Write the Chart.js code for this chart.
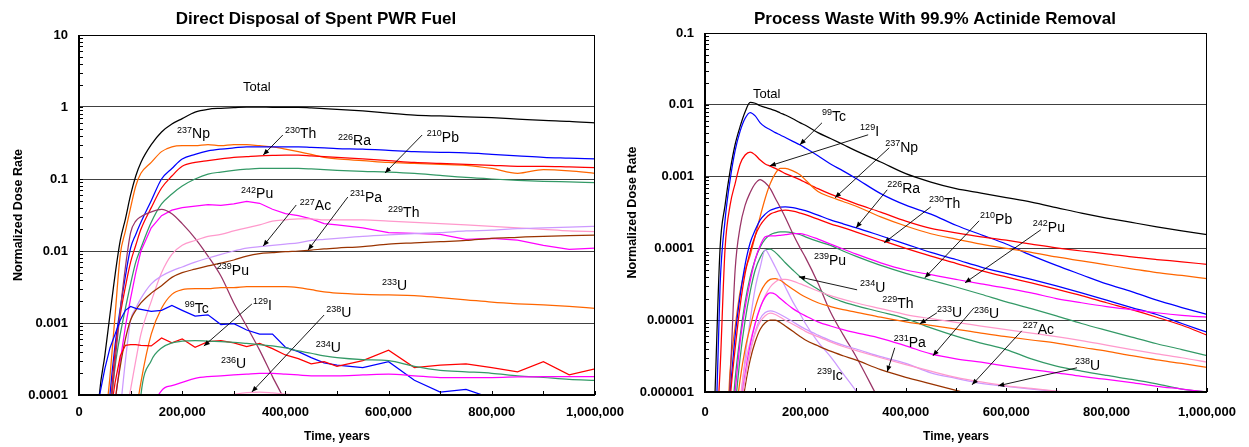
<!DOCTYPE html>
<html><head><meta charset="utf-8">
<script src="https://cdn.jsdelivr.net/npm/chart.js@4/dist/chart.umd.min.js"></script>
<style>
html,body{margin:0;padding:0;background:#fff;}
#wrap{position:relative;width:1249px;height:447px;background:#fff;}
canvas{position:absolute;left:0;top:0;}
</style>
</head><body>
<div id="wrap"><canvas id="c1" width="1249" height="447" style="width:1249px;height:447px"></canvas><canvas id="c2" width="1249" height="447" style="width:1249px;height:447px"></canvas></div>
<script>
// ---------- DATA : left chart (Direct Disposal of Spent PWR Fuel) ----------
const timesL = [30000,40000,50000,60000,70000,80000,90000,100000,110000,120000,140000,160000,180000,200000,225000,250000,275000,300000,325000,350000,375000,400000,425000,450000,475000,500000,550000,600000,650000,700000,750000,800000,850000,900000,950000,1000000];
const totalL = [1e-5,1.1e-4,3.5e-4,1.3e-3,4.7e-3,0.014,0.028,0.06,0.11,0.17, 0.30,0.45,0.58,0.69, 0.85,0.93,0.96,0.98,1.0,1.0,0.99,0.99,0.99,0.97,0.95,0.93, 0.88,0.82,0.77,0.75,0.73,0.71,0.68,0.65,0.63,0.60];
const np237L = [1e-6,1e-6,3e-5,1.8e-4,1.3e-3,8.9e-3,0.019,0.04,0.08,0.12, 0.17,0.24,0.28,0.29, 0.29,0.30,0.29,0.30,0.30,0.29,0.28,0.26,0.24,0.22,0.20,0.19, 0.18,0.17,0.165,0.16,0.155,0.14,0.12,0.135,0.13,0.12];
const ra226L = [1e-6,1e-6,1e-5,1e-4,5e-4,1.6e-3,4.5e-3,0.011,0.017,0.025, 0.05,0.1,0.14,0.19, 0.22,0.245,0.26,0.27,0.28,0.28,0.28,0.28,0.28,0.275,0.27,0.265, 0.26,0.25,0.24,0.235,0.23,0.22,0.21,0.20,0.195,0.19];
const th230L = [1e-6,1e-6,1e-6,5e-5,4e-4,1.3e-3,3.2e-3,7e-3,0.012,0.02, 0.04,0.075,0.11,0.15, 0.17,0.18,0.19,0.2,0.205,0.21,0.213,0.215,0.215,0.21,0.205,0.2, 0.19,0.18,0.17,0.165,0.16,0.155,0.15,0.15,0.147,0.144];
const pb210L = [1e-6,1e-6,5e-6,5e-5,2.5e-4,7e-4,1.6e-3,3.5e-3,7e-3,0.011, 0.025,0.045,0.062,0.08, 0.1,0.117,0.125,0.132,0.137,0.14,0.14,0.14,0.14,0.138,0.135,0.132, 0.128,0.125,0.12,0.112,0.105,0.1,0.096,0.093,0.091,0.089];
const pu242L = [1e-6,1e-6,1e-6,1e-5,8e-5,3e-4,9e-4,2.2e-3,5e-3,0.01, 0.021,0.031,0.037,0.04, 0.042,0.044,0.043,0.045,0.049,0.046,0.038,0.033,0.031,0.028,0.024,0.023, 0.021,0.018,0.0176,0.017,0.0145,0.015,0.0142,0.012,0.0105,0.011];
const pu239L = [1e-6,1e-6,1e-5,5e-5,3e-4,1.5e-3,6e-3,0.018,0.026,0.03, 0.035,0.038,0.033,0.024, 0.015,0.0085,0.0045,0.0019,9e-4,4.2e-4,1.8e-4,8e-5,3e-5,1e-5,4e-6,1e-6, 1e-7,1e-7,1e-7,1e-7,1e-7,1e-7,1e-7,1e-7,1e-7,1e-7];
const th229L = [1e-6,1e-6,1e-6,1e-6,1e-6,1e-5,5e-5,1.2e-4,3e-4,7e-4, 2e-3,5e-3,9e-3,0.012, 0.014,0.016,0.017,0.019,0.021,0.023,0.026,0.027,0.028,0.028,0.027,0.027, 0.027,0.026,0.025,0.024,0.023,0.022,0.021,0.02,0.019,0.0186];
const ac227L = [1e-6,1e-6,1e-6,1e-6,1e-5,6e-5,3e-4,1.1e-3,1.6e-3,2.2e-3, 3.5e-3,4.5e-3,5.3e-3,6e-3, 7e-3,8e-3,9e-3,0.01,0.011,0.0115,0.012,0.0125,0.013,0.014,0.0145,0.015, 0.016,0.0168,0.0175,0.018,0.019,0.0195,0.0205,0.021,0.0215,0.022];
const pa231L = [1e-6,1e-6,1e-6,1e-5,8e-5,2.5e-4,6e-4,1.1e-3,1.5e-3,1.9e-3, 2.6e-3,3.3e-3,4.3e-3,5e-3, 5.6e-3,6.2e-3,6.8e-3,7.5e-3,8.5e-3,9.2e-3,9.5e-3,9.8e-3,0.01,0.0103,0.0107,0.011, 0.0115,0.0125,0.013,0.0135,0.014,0.015,0.0155,0.016,0.0163,0.0166];
const u233L  = [1e-6,1e-6,1e-6,1e-6,1e-6,1e-6,1e-6,1e-5,5e-5,1.5e-4, 7e-4,1.6e-3,2.5e-3,2.9e-3, 3e-3,3e-3,3.1e-3,3.1e-3,3.2e-3,3.2e-3,3.2e-3,3.2e-3,3.1e-3,2.9e-3,2.7e-3,2.6e-3, 2.5e-3,2.45e-3,2.4e-3,2.25e-3,2.1e-3,1.95e-3,1.85e-3,1.78e-3,1.7e-3,1.6e-3];
const tc99L  = [1e-5,1e-4,2.3e-4,4.5e-4,7e-4,1.1e-3,1.5e-3,1.7e-3,1.6e-3,1.55e-3, 1.45e-3,1.5e-3,1.75e-3,1.5e-3, 1.25e-3,1.3e-3,9.5e-4,9.8e-4,8e-4,7e-4,7e-4,4.6e-4,4e-4,3.3e-4,2.8e-4,2.6e-4, 2.4e-4,2.9e-4,1.6e-4,1.1e-4,1.2e-4,9e-5,6e-5,5e-5,4e-5,3e-5];
const i129L  = [1e-6,1e-5,3e-5,5e-5,1.5e-4,3.5e-4,4.9e-4,5e-4,5e-4,4.9e-4, 4.8e-4,6.2e-4,5.3e-4,6e-4, 4.6e-4,5.5e-4,5.7e-4,5.3e-4,4.7e-4,5.2e-4,4.4e-4,3.6e-4,3.2e-4,2.7e-4,2.9e-4,2.5e-4, 3e-4,4.2e-4,2.4e-4,2.6e-4,2.7e-4,2.4e-4,2.1e-4,2.9e-4,1.9e-4,2.3e-4];
const u234L  = [1e-6,1e-6,1e-6,1e-6,1e-6,1e-6,1e-6,1e-6,1e-5,1e-4, 3e-4,4.5e-4,5.3e-4,5.6e-4, 5.7e-4,5.6e-4,5.5e-4,5.4e-4,5.2e-4,5e-4,4.8e-4,4.5e-4,4.1e-4,3.8e-4,3.5e-4,3.3e-4, 3.1e-4,3e-4,2.5e-4,2.2e-4,2.1e-4,2e-4,1.85e-4,1.75e-4,1.65e-4,1.6e-4];
const u236L  = [1e-7,1e-7,1e-7,1e-7,1e-7,1e-7,1e-7,1e-7,1e-7,1e-7, 3e-5,1.15e-4,1.35e-4,1.5e-4, 1.7e-4,1.8e-4,1.85e-4,1.9e-4,1.95e-4,2e-4,2e-4,1.95e-4,1.9e-4,1.85e-4,1.85e-4,1.85e-4, 1.9e-4,1.95e-4,1.85e-4,1.75e-4,1.75e-4,1.75e-4,1.78e-4,1.8e-4,1.8e-4,1.8e-4];
const u238L  = [1e-7,1e-7,1e-7,1e-7,1e-7,1e-7,1e-7,1e-7,1e-7,1e-7,1e-7,1e-7,1e-7, 2e-5,5e-5,8e-5,9.5e-5,1.02e-4,1.08e-4,1.1e-4,1.07e-4,1.03e-4,1e-4,9.8e-5,9.6e-5,9.5e-5, 9.5e-5,9.6e-5,8e-5,5e-5,3e-5,2e-5,1.5e-5,1e-5,1e-5,1e-5];

// ---------- DATA : right chart (Process Waste With 99.9% Actinide Removal) ----------
const timesR = [20000,30000,40000,50000,60000,70000,80000,90000,100000,110000,120000,130000,140000,150000,160000,175000,190000,200000,225000,250000,275000,300000,350000,400000,450000,500000,550000,600000,650000,700000,750000,800000,850000,900000,950000,1000000];
const totalR = [1e-6,1e-4,4e-4,1.2e-3,2.8e-3,5e-3,8e-3,0.0108,0.0105,0.0097, 0.0092,0.0088,0.0083,0.0077,0.0072,0.0064,0.0056,0.0052, 0.0041,0.0034,0.0028,0.0023, 0.0016,0.0011,8.4e-4,6.8e-4,5.9e-4,5.1e-4,4.4e-4,3.7e-4,3.1e-4,2.65e-4,2.3e-4,2e-4,1.75e-4,1.55e-4];
const tc99R  = [1e-7,3e-5,2.5e-4,9e-4,2.3e-3,4.3e-3,6.5e-3,7.8e-3,7e-3,5.6e-3, 4.9e-3,4.5e-3,4.1e-3,3.8e-3,3.5e-3,3.1e-3,2.75e-3,2.5e-3, 1.95e-3,1.5e-3,1.2e-3,9.5e-4, 5.8e-4,4e-4,3e-4,2.1e-4,1.55e-4,1.15e-4,8e-5,5.8e-5,4.3e-5,3.2e-5,2.5e-5,1.9e-5,1.5e-5,1.2e-5];
const i129R  = [1e-7,2e-6,1e-4,4e-4,8e-4,1.5e-3,2e-3,2.2e-3,2e-3,1.7e-3, 1.5e-3,1.4e-3,1.3e-3,1.2e-3,1.1e-3,1e-3,9e-4,8.3e-4, 6.8e-4,5.7e-4,4.9e-4,4.2e-4, 3.2e-4,2.4e-4,1.9e-4,1.65e-4,1.45e-4,1.3e-4,1.15e-4,1.02e-4,9.2e-5,8.4e-5,7.6e-5,7e-5,6.5e-5,6e-5];
const np237R = [1e-7,1e-7,1e-7,2e-6,8e-6,2.5e-5,5e-5,8e-5,1.5e-4,2.8e-4, 5e-4,8e-4,1.1e-3,1.3e-3,1.3e-3,1.2e-3,1.05e-3,9e-4, 6.2e-4,5.2e-4,4.5e-4,3.9e-4, 2.75e-4,2.05e-4,1.6e-4,1.35e-4,1.15e-4,1e-4,8.8e-5,7.6e-5,6.7e-5,5.9e-5,5.2e-5,4.6e-5,4.2e-5,3.8e-5];
const ra226R = [1e-7,1e-7,2e-7,1e-6,6e-6,2.2e-5,6e-5,1.2e-4,1.8e-4,2.5e-4, 3e-4,3.4e-4,3.6e-4,3.75e-4,3.8e-4,3.7e-4,3.5e-4,3.35e-4, 2.9e-4,2.5e-4,2.2e-4,1.95e-4, 1.5e-4,1.15e-4,8.8e-5,7e-5,5.5e-5,4.5e-5,3.7e-5,3e-5,2.4e-5,1.9e-5,1.5e-5,1.2e-5,9e-6,6.8e-6];
const th230R = [1e-7,1e-7,1e-7,8e-7,4e-6,1.6e-5,4.5e-5,9e-5,1.5e-4,2.1e-4, 2.6e-4,3e-4,3.2e-4,3.35e-4,3.4e-4,3.3e-4,3.1e-4,2.95e-4, 2.55e-4,2.2e-4,1.95e-4,1.7e-4, 1.3e-4,1e-4,7.8e-5,6.2e-5,4.9e-5,4e-5,3.3e-5,2.7e-5,2.2e-5,1.75e-5,1.4e-5,1.1e-5,8.5e-6,6.2e-6];
const pb210R = [1e-7,1e-7,1e-7,2e-7,1.5e-6,6e-6,1.8e-5,4e-5,7e-5,1.05e-4, 1.35e-4,1.55e-4,1.65e-4,1.7e-4,1.7e-4,1.65e-4,1.55e-4,1.45e-4, 1.25e-4,1.1e-4,9.2e-5,7.8e-5, 5.8e-5,4.5e-5,3.6e-5,2.9e-5,2.3e-5,1.8e-5,1.45e-5,1.15e-5,9e-6,7.2e-6,5.8e-6,4.7e-6,3.9e-6,3.2e-6];
const pu242R = [1e-7,1e-7,1e-7,2e-7,1e-6,5e-6,1.5e-5,3.5e-5,7e-5,1.1e-4, 1.45e-4,1.5e-4,1.5e-4,1.52e-4,1.55e-4,1.6e-4,1.6e-4,1.55e-4, 1.35e-4,1.15e-4,9.8e-5,8.4e-5, 6.3e-5,5e-5,4.3e-5,3.7e-5,3.2e-5,2.8e-5,2.4e-5,2e-5,1.75e-5,1.55e-5,1.4e-5,1.27e-5,1.17e-5,1.1e-5];
const pu239R = [1e-7,1e-7,1e-7,1.5e-6,5e-5,2e-4,4e-4,6e-4,8e-4,9.1e-4, 8.2e-4,6.8e-4,5e-4,3.7e-4,2.7e-4,1.6e-4,1e-4,7.5e-5, 3.3e-5,1.3e-5,6.3e-6,3.2e-6, 7e-7,1.6e-7,1e-7,1e-7,1e-7,1e-7,1e-7,1e-7,1e-7,1e-7,1e-7,1e-7,1e-7,1e-7];
const u234R  = [1e-7,1e-7,1e-7,1e-7,6e-7,3e-6,1e-5,2.5e-5,5e-5,7.5e-5, 9.5e-5,9.8e-5,8.8e-5,7.5e-5,6.3e-5,5e-5,4e-5,3.5e-5, 2.7e-5,2.1e-5,1.8e-5,1.6e-5, 1.3e-5,1.05e-5,7.8e-6,6e-6,4.8e-6,3.9e-6,2.9e-6,2.3e-6,1.95e-6,1.7e-6,1.5e-6,1.3e-6,1.1e-6,1e-6];
const ic239R = [1e-7,1e-7,1e-7,1e-7,1e-7,6e-7,3e-6,1e-5,2.8e-5,5.5e-5, 9.5e-5,7.5e-5,5.5e-5,4e-5,2.9e-5,1.8e-5,1.2e-5,9e-6, 5e-6,3.1e-6,1.8e-6,1.05e-6, 3e-7,1e-7,1e-7,1e-7,1e-7,1e-7,1e-7,1e-7,1e-7,1e-7,1e-7,1e-7,1e-7,1e-7];
const u233R  = [1e-7,1e-7,1e-7,1e-7,4e-7,1.5e-6,4e-6,8e-6,1.5e-5,2.4e-5, 3.2e-5,3.7e-5,3.8e-5,3.6e-5,3.2e-5,2.7e-5,2.3e-5,2.1e-5, 1.75e-5,1.55e-5,1.4e-5,1.3e-5, 1.1e-5,9.5e-6,8.5e-6,7.5e-6,6.6e-6,5.9e-6,5.3e-6,4.8e-6,4.2e-6,3.7e-6,3.2e-6,2.8e-6,2.5e-6,2.2e-6];
const th229R = [1e-7,1e-7,1e-7,1e-7,2e-7,8e-7,2.5e-6,5e-6,9e-6,1.5e-5, 2.2e-5,2.9e-5,3.4e-5,3.7e-5,3.7e-5,3.5e-5,3.2e-5,3e-5, 2.55e-5,2.2e-5,1.95e-5,1.75e-5, 1.45e-5,1.2e-5,1.05e-5,9.3e-6,8.3e-6,7.4e-6,6.6e-6,5.9e-6,5.2e-6,4.5e-6,3.9e-6,3.4e-6,3e-6,2.6e-6];
const u236R  = [1e-7,1e-7,1e-7,1e-7,1e-7,5e-7,1.8e-6,4.5e-6,9e-6,1.5e-5, 2.1e-5,2.4e-5,2.3e-5,2e-5,1.75e-5,1.45e-5,1.25e-5,1.15e-5, 9.5e-6,8.3e-6,7.4e-6,6.7e-6, 5.6e-6,4.4e-6,3.4e-6,2.9e-6,2.6e-6,2.3e-6,2.05e-6,1.85e-6,1.65e-6,1.5e-6,1.35e-6,1.2e-6,1.1e-6,1e-6];
const pa231R = [1e-7,1e-7,1e-7,1e-7,1e-7,4e-7,1.2e-6,2.8e-6,5e-6,7.5e-6, 9.2e-6,1e-5,1e-5,9.3e-6,8.3e-6,7e-6,5.9e-6,5.3e-6, 4.4e-6,3.7e-6,3.2e-6,2.8e-6, 2.05e-6,1.6e-6,1.3e-6,1.05e-6,8.5e-7,7e-7,6e-7,5e-7,4e-7,3.5e-7,3e-7,2.5e-7,2e-7,1.5e-7];
const ac227R = [1e-7,1e-7,1e-7,1e-7,1e-7,5e-7,1.6e-6,3.8e-6,7e-6,1.05e-5, 1.28e-5,1.35e-5,1.3e-5,1.2e-5,1.1e-5,9.5e-6,8.2e-6,7.5e-6, 6.2e-6,5.2e-6,4.5e-6,4e-6, 3.1e-6,2.5e-6,1.85e-6,1.55e-6,1.32e-6,1.2e-6,1.1e-6,1.02e-6,9.6e-7,9e-7,8.5e-7,8e-7,7.5e-7,7e-7];
const u238R  = [1e-7,1e-7,1e-7,1e-7,1e-7,5e-7,1.5e-6,3.5e-6,6.5e-6,9.5e-6, 1.15e-5,1.25e-5,1.2e-5,1.1e-5,1e-5,8.8e-6,7.7e-6,7e-6, 5.9e-6,5e-6,4.3e-6,3.8e-6, 3e-6,2.4e-6,1.95e-6,1.6e-6,1.38e-6,1.22e-6,1.12e-6,1.03e-6,9.5e-7,8.8e-7,8e-7,7.5e-7,7e-7,6.5e-7];

// ---------- tick labels ----------
const xTicks  = [0,200000,400000,600000,800000,1000000];
const yTicksL = [10,1,0.1,0.01,0.001,0.0001];
const yTicksR = [0.1,0.01,0.001,0.0001,0.00001,0.000001];

// ---------- colours ----------
const C = {black:'#000000', orange:'#FF6600', blue:'#0000FF', red:'#FF0000', green:'#339966',
           magenta:'#FF00FF', mauve:'#993366', pink:'#FF99CC', lavender:'#CC99FF', brown:'#993300'};

// [name, values, colour, straight segments?]
const seriesL = [
  ['238U',u238L,C.pink],['236U',u236L,C.magenta],['234U',u234L,C.green],['129I',i129L,C.red,true],['99Tc',tc99L,C.blue,true],
  ['233U',u233L,C.orange],['231Pa',pa231L,C.brown],['227Ac',ac227L,C.lavender],['229Th',th229L,C.pink],
  ['239Pu',pu239L,C.mauve],['242Pu',pu242L,C.magenta,true],['210Pb',pb210L,C.green],['230Th',th230L,C.red],
  ['226Ra',ra226L,C.blue],['237Np',np237L,C.orange],['Total',totalL,C.black]
];
const seriesR = [
  ['238U',u238R,C.pink],['227Ac',ac227R,C.lavender],['231Pa',pa231R,C.brown],['236U',u236R,C.magenta],
  ['229Th',th229R,C.pink],['233U',u233R,C.orange],['239Ic',ic239R,C.lavender],['234U',u234R,C.green],
  ['239Pu',pu239R,C.mauve],['242Pu',pu242R,C.magenta],['210Pb',pb210R,C.green],['230Th',th230R,C.red],
  ['226Ra',ra226R,C.blue],['237Np',np237R,C.orange],['129I',i129R,C.red],['99Tc',tc99R,C.blue],['Total',totalR,C.black]
];

// ---------- annotation placement (time in thousand years, log10 of dose) ----------
const labelsL = [
  {s:'',m:'Total',t:318,lg:0.222,size:13},{s:'237',m:'Np',t:190,lg:-0.431},{s:'230',m:'Th',t:399,lg:-0.431},
  {s:'226',m:'Ra',t:502,lg:-0.528},{s:'210',m:'Pb',t:674,lg:-0.486},{s:'242',m:'Pu',t:314,lg:-1.264},
  {s:'227',m:'Ac',t:428,lg:-1.431},{s:'231',m:'Pa',t:525,lg:-1.319},{s:'229',m:'Th',t:599,lg:-1.528},
  {s:'239',m:'Pu',t:267,lg:-2.333},{s:'233',m:'U',t:587,lg:-2.542},{s:'99',m:'Tc',t:205,lg:-2.861},
  {s:'129',m:'I',t:337,lg:-2.819},{s:'238',m:'U',t:479,lg:-2.917},{s:'234',m:'U',t:459,lg:-3.403},
  {s:'236',m:'U',t:275,lg:-3.625}
];
const arrowsL = [
  [395,-0.389,357,-0.667],[665,-0.389,593,-0.917],[421,-1.361,357,-1.931],
  [521,-1.25,444,-1.986],[335,-2.736,242,-3.319],[475,-2.889,335,-3.958]
];
const labelsR = [
  {s:'',m:'Total',t:95.6,lg:-1.903,size:13},{s:'99',m:'Tc',t:233,lg:-2.223},{s:'129',m:'I',t:309,lg:-2.432},
  {s:'237',m:'Np',t:359,lg:-2.655},{s:'226',m:'Ra',t:363,lg:-3.226},{s:'230',m:'Th',t:446,lg:-3.435},
  {s:'210',m:'Pb',t:548,lg:-3.657},{s:'242',m:'Pu',t:653,lg:-3.769},{s:'239',m:'Pu',t:217,lg:-4.228},
  {s:'234',m:'U',t:309,lg:-4.604},{s:'229',m:'Th',t:353,lg:-4.827},{s:'233',m:'U',t:462,lg:-4.96},
  {s:'236',m:'U',t:536,lg:-4.974},{s:'227',m:'Ac',t:633,lg:-5.19},{s:'231',m:'Pa',t:376,lg:-5.37},
  {s:'238',m:'U',t:737,lg:-5.69},{s:'239',m:'Ic',t:223,lg:-5.83}
];
const arrowsR = [
  [233,-2.251,189,-2.557],[325,-2.418,129,-2.85],[367,-2.599,259,-3.295],[363,-3.184,301,-3.713],
  [450,-3.421,357,-3.922],[546,-3.616,438,-4.409],[669,-3.741,518,-4.479],[303,-4.577,187,-4.396],
  [462,-4.897,428,-5.05],[536,-4.827,454,-5.496],[631,-5.148,532,-5.9],[378,-5.384,363,-5.718],
  [741,-5.663,584,-5.914]
];

// ---------- rendering ----------
const FF = "'Liberation Sans', Arial, Helvetica, sans-serif";
Chart.defaults.font.family = FF;
Chart.defaults.color = '#000';

const fmtX = v => String(v).replace(/\B(?=(\d{3})+(?!\d))/g, ',');

function build(times, series) {
  return series.map(([label, vals, color, straight]) => ({
    label, data: times.map((t, i) => ({x: t, y: vals[i]})),
    borderColor: color, backgroundColor: color, borderWidth: 1.25,
    pointRadius: 0, fill: false,
    cubicInterpolationMode: straight ? 'default' : 'monotone', tension: 0
  }));
}

const annot = {
  id: 'annot',
  afterDraw(chart, args, opts) {
    const {ctx, chartArea: a, scales: {x, y}} = chart;
    const L = Math.round(a.left), R = Math.round(a.right), T = Math.round(a.top), B = Math.round(a.bottom);
    ctx.save();
    ctx.fillStyle = '#000'; ctx.strokeStyle = '#000'; ctx.lineWidth = 1;
    // chart title
    ctx.font = 'bold 17px ' + FF; ctx.textAlign = 'center'; ctx.textBaseline = 'alphabetic';
    ctx.fillText(opts.title, (a.left + a.right) / 2 + opts.titleShift, opts.titleY);
    // minor y ticks (inside)
    const lo = Math.round(Math.log10(y.min)), hi = Math.round(Math.log10(y.max));
    for (let e = lo; e < hi; e++) for (let m = 1; m < 10; m++) {
      const py = Math.round(y.getPixelForValue(m * Math.pow(10, e)));
      ctx.fillRect(L, py, 4, 1);
    }
    // x ticks (inside)
    for (let v = 0; v <= 1000000; v += 100000) {
      const px = Math.round(x.getPixelForValue(v));
      ctx.fillRect(px, B - 4, 1, 4);
    }
    // frame
    ctx.fillRect(L, T, R - L, 1);
    ctx.fillRect(R - 1, T, 1, B - T);
    ctx.fillRect(L - 1, T, 2, B - T + 1);
    ctx.fillRect(L - 1, B - 1, R - L + 1, 2);
    // labels
    ctx.textAlign = 'left'; ctx.textBaseline = 'alphabetic';
    for (const lb of opts.labels) {
      const px = x.getPixelForValue(lb.t * 1000), py = y.getPixelForValue(Math.pow(10, lb.lg));
      let cx = px;
      if (lb.s) {
        ctx.font = '9px ' + FF;
        ctx.fillText(lb.s, cx, py - 5.5);
        cx += ctx.measureText(lb.s).width;
      }
      ctx.font = (lb.size || 14) + 'px ' + FF;
      ctx.fillText(lb.m, cx, py);
    }
    // arrows
    ctx.lineWidth = 0.9;
    for (const [t1, l1, t2, l2] of opts.arrows) {
      const x1 = x.getPixelForValue(t1 * 1000), y1 = y.getPixelForValue(Math.pow(10, l1));
      const x2 = x.getPixelForValue(t2 * 1000), y2 = y.getPixelForValue(Math.pow(10, l2));
      ctx.beginPath(); ctx.moveTo(x1, y1); ctx.lineTo(x2, y2); ctx.stroke();
      const ang = Math.atan2(y2 - y1, x2 - x1), hl = 6, hw = 2.5;
      const c = Math.cos(ang), s = Math.sin(ang);
      ctx.beginPath();
      ctx.moveTo(x2, y2);
      ctx.lineTo(x2 - hl * c + hw * s, y2 - hl * s - hw * c);
      ctx.lineTo(x2 - hl * c - hw * s, y2 - hl * s + hw * c);
      ctx.closePath(); ctx.fill();
    }
    ctx.restore();
  }
};

function makeChart(id, o) {
  return new Chart(document.getElementById(id), {
    type: 'line',
    data: {datasets: build(o.times, o.series)},
    options: {
      responsive: false, animation: false, devicePixelRatio: 1,
      layout: {padding: o.pad},
      plugins: {
        legend: {display: false}, tooltip: {enabled: false}, title: {display: false},
        annot: {labels: o.labels, arrows: o.arrows, title: o.title, titleShift: -21, titleY: 24}
      },
      scales: {
        x: {
          type: 'linear', min: 0, max: 1000000,
          grid: {display: false, drawTicks: false}, border: {display: false},
          afterBuildTicks: s => { s.ticks = xTicks.map(v => ({value: v})); },
          afterFit: s => { s.height = o.xH; s.paddingLeft = 0; s.paddingRight = 0; },
          ticks: {autoSkip: false, maxRotation: 0, padding: o.xTickPad, color: '#000',
                  font: {size: 13, weight: 'bold'}, callback: v => fmtX(v)},
          title: {display: true, text: 'Time, years', color: '#000',
                  font: {size: 12, weight: 'bold'}, padding: {top: 0, bottom: 3}}
        },
        y: {
          type: 'logarithmic', min: o.ymin, max: o.ymax,
          grid: {drawTicks: false, color: '#404040', lineWidth: 1}, border: {display: false},
          afterBuildTicks: s => { s.ticks = o.yTicks.map(v => ({value: v})); },
          afterFit: s => { s.width = o.yW; s.paddingTop = 0; s.paddingBottom = 0; },
          ticks: {autoSkip: false, padding: 11, color: '#000',
                  font: {size: 13, weight: 'bold'}, callback: v => String(v)},
          title: {display: true, text: 'Normalized Dose Rate', color: '#000',
                  font: {size: 12.5, weight: 'bold'}, padding: {top: o.yTitlePad, bottom: 0}}
        }
      }
    },
    plugins: [annot]
  });
}

makeChart('c1', {
  times: timesL, series: seriesL, labels: labelsL, arrows: arrowsL,
  title: 'Direct Disposal of Spent PWR Fuel',
  pad: {left: 0, right: 654, top: 35, bottom: 0}, yW: 79, xH: 52, xTickPad: 10, yTitlePad: 11,
  ymin: 0.0001, ymax: 10, yTicks: yTicksL
});
makeChart('c2', {
  times: timesR, series: seriesR, labels: labelsR, arrows: arrowsR,
  title: 'Process Waste With 99.9% Actinide Removal',
  pad: {left: 620, right: 42, top: 33, bottom: 0}, yW: 85, xH: 55, xTickPad: 13, yTitlePad: 5,
  ymin: 0.000001, ymax: 0.1, yTicks: yTicksR
});
</script>
</body></html>
